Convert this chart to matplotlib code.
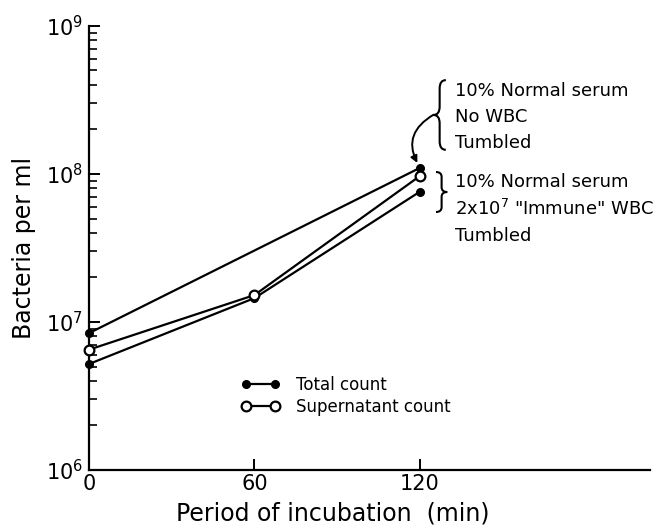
import numpy as np
import matplotlib
matplotlib.use('Agg')
import matplotlib.pyplot as plt
from matplotlib.ticker import LogLocator, FixedLocator
from matplotlib.path import Path
from matplotlib.patches import PathPatch

time_min = [0, 60, 120]
total_a_time = [0, 120]
total_a = [8.4e6, 1.1e8]          # 10% normal serum, no WBC (top line)
supernatant = [6.5e6, 1.52e7, 9.7e7]
total_b = [5.2e6, 1.45e7, 7.6e7]

x_ticks = [0, 60, 120]
y_ticks = [1e6, 1e7, 1e8, 1e9]

group1 = ['10% Normal serum', 'No WBC', 'Tumbled']
group2 = ['10% Normal serum', '2x10$^7$ "Immune" WBC', 'Tumbled']


def brace(ax, x0, bot, top, w, lw=1.5):
    # curly brace in axes coords; w < 0 points left, w > 0 points right
    mid = (bot + top) / 2.0
    d = (top - bot) * 0.12
    xm = x0 + w / 2.0
    verts = [(x0, top), (xm, top), (xm, top - d),
             (xm, mid + d),
             (xm, mid), (x0 + w, mid),
             (xm, mid), (xm, mid - d),
             (xm, bot + d),
             (xm, bot), (x0, bot)]
    codes = [Path.MOVETO, Path.CURVE3, Path.CURVE3,
             Path.LINETO,
             Path.CURVE3, Path.CURVE3,
             Path.CURVE3, Path.CURVE3,
             Path.LINETO,
             Path.CURVE3, Path.CURVE3]
    ax.add_patch(PathPatch(Path(verts, codes), transform=ax.transAxes,
                           fill=False, lw=lw, color='black', clip_on=False))


plt.rcParams['font.family'] = ['DejaVu Sans']
plt.rcParams['mathtext.default'] = 'regular'

fig = plt.figure(figsize=(6.54, 5.29), dpi=100)
ax = fig.add_axes([0.136, 0.1115, 0.858, 0.8395])

lw = 1.6
ax.plot(total_a_time, total_a, '-', color='black', lw=lw, marker='o', ms=5.5,
        mfc='black', mec='black', clip_on=False, zorder=3)
ax.plot(time_min, total_b, '-', color='black', lw=lw, marker='o', ms=5.5,
        mfc='black', mec='black', clip_on=False, zorder=3, label='Total count')
ax.plot(time_min, supernatant, '-', color='black', lw=lw, marker='o', ms=7,
        mfc='white', mec='black', mew=1.6, clip_on=False, zorder=4,
        label='Supernatant count')

ax.set_yscale('log')
ax.set_ylim(1e6, 1e9)
ax.set_xlim(0, 203.4)

for s in ['top', 'right']:
    ax.spines[s].set_visible(False)
for s in ['left', 'bottom']:
    ax.spines[s].set_linewidth(1.6)

ax.xaxis.set_major_locator(FixedLocator(x_ticks))
ax.set_xticklabels([str(t) for t in x_ticks])
ax.yaxis.set_major_locator(FixedLocator(y_ticks))
ax.yaxis.set_minor_locator(LogLocator(base=10, subs=np.arange(2, 10)))
ax.tick_params(axis='both', which='major', direction='in', length=8, width=1.4,
               labelsize=15, pad=3)
ax.tick_params(axis='y', which='minor', direction='in', length=6, width=1.2)
ax.tick_params(axis='y', which='major', pad=4)

ax.set_ylabel('Bacteria per ml', fontsize=17, labelpad=6)
ax.set_xlabel('Period of incubation  (min)', fontsize=17, labelpad=6)
ax.xaxis.set_label_coords(0.435, -0.07)
ax.yaxis.set_label_coords(-0.095, 0.5)

ax.legend(loc='upper left', bbox_to_anchor=(0.245, 0.245), frameon=False,
          fontsize=12, handlelength=2.3, handletextpad=1.0, labelspacing=0.2,
          numpoints=2)

# annotations on the right
for i, t in enumerate(group1):
    ax.text(0.652, 0.854 - i * 0.059, t, transform=ax.transAxes, fontsize=13,
            va='center', ha='left')
for i, t in enumerate(group2):
    ax.text(0.652, 0.649 - i * 0.061, t, transform=ax.transAxes, fontsize=13,
            va='center', ha='left')

brace(ax, 0.636, 0.721, 0.878, -0.022)
brace(ax, 0.6185, 0.581, 0.671, 0.02)

ax.annotate('', xy=(120, total_a[-1]), xytext=(0.614, 0.80),
            xycoords='data', textcoords='axes fraction',
            arrowprops=dict(arrowstyle='-|>', color='black', lw=1.4,
                            connectionstyle='arc3,rad=0.5', shrinkA=0, shrinkB=4,
                            mutation_scale=10))

fig.savefig('out.png', dpi=100)
